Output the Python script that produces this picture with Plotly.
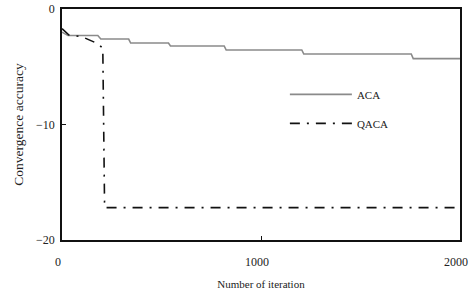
import plotly.graph_objects as go

# ACA: step curve (iteration, convergence accuracy)
aca_iter = [0, 30, 50, 180, 195, 335, 345, 535, 545, 815, 825, 1205, 1215, 1755, 1765, 2000]
aca_val = [-2.0, -2.3, -2.3, -2.3, -2.6, -2.6, -2.95, -2.95, -3.2, -3.2, -3.55, -3.55, -3.9, -3.9, -4.3, -4.3]

# QACA
qaca_iter = [0, 35, 100, 150, 180, 205, 214, 225, 2000]
qaca_val = [-1.7, -2.25, -2.4, -2.8, -3.0, -3.4, -17.2, -17.2, -17.2]

x_ticks = [0, 1000, 2000]
y_ticks = [-20, -10, 0]

font_family = "Liberation Serif, Times New Roman, serif"

fig = go.Figure()
fig.add_trace(go.Scatter(x=aca_iter, y=aca_val, mode="lines", name="ACA",
                         legendgroup="a",
                         line=dict(color="#8a8a8a", width=1.6)))
fig.add_trace(go.Scatter(x=qaca_iter, y=qaca_val, mode="lines", name="QACA",
                         legendgroup="b",
                         line=dict(color="#111111", width=1.6, dash="10px,7px,2px,7px")))

fig.update_layout(
    width=471, height=298,
    margin=dict(l=62, r=11, t=9, b=58),
    paper_bgcolor="white", plot_bgcolor="white",
    font=dict(family=font_family, size=12, color="#222"),
    showlegend=True,
    legend=dict(x=0.56, y=0.693, xanchor="left", yanchor="top",
                bgcolor="rgba(0,0,0,0)", tracegroupgap=10, itemwidth=62,
                font=dict(family=font_family, size=11)),
)
fig.update_xaxes(range=[0, 2000], tickvals=x_ticks, ticktext=[str(v) for v in x_ticks],
                 showgrid=False, zeroline=False, showline=True, mirror=True,
                 linecolor="#111", linewidth=1.8, ticks="inside", ticklen=4,
                 tickcolor="#111", ticklabelstandoff=10, ticklabelshift=-4,
                 automargin=False,
                 tickfont=dict(family=font_family, size=12),
                 title=dict(text="Number of iteration", standoff=12,
                            font=dict(family=font_family, size=11)))
fig.update_yaxes(range=[-20, 0], tickvals=y_ticks, ticktext=["\u221220", "\u221210", "0"],
                 showgrid=False, zeroline=False, showline=True, mirror=True,
                 linecolor="#111", linewidth=1.8, ticks="inside", ticklen=4,
                 tickcolor="#111", ticklabelstandoff=3,
                 automargin=False,
                 tickfont=dict(family=font_family, size=12),
                 title=dict(text="Convergence accuracy", standoff=9,
                            font=dict(family=font_family, size=13.5)))

fig.write_html(
    "out.html",
    config={"displayModeBar": False},
    post_script="document.body.style.margin='0';document.body.style.overflow='hidden';",
)
